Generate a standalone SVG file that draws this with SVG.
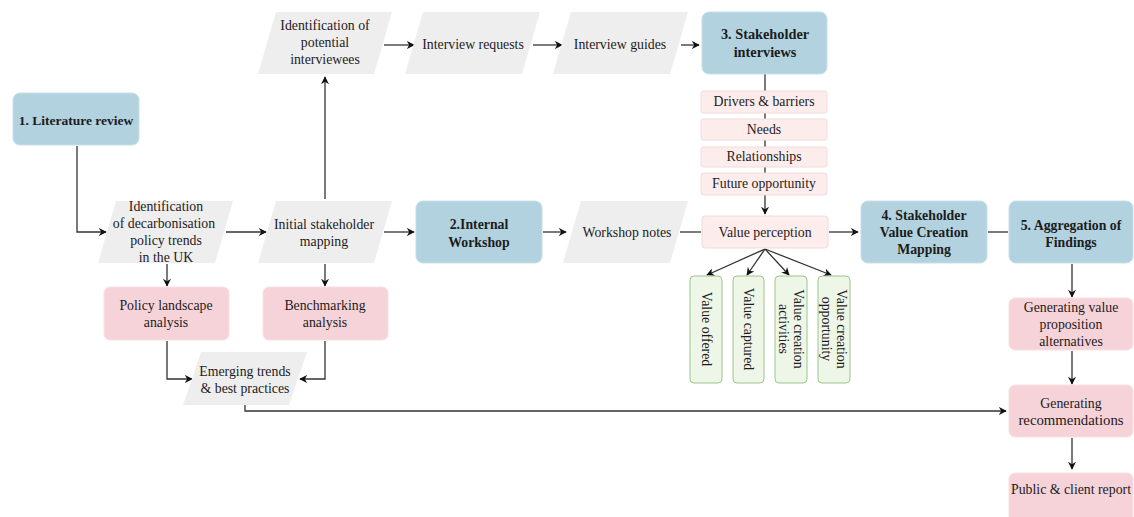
<svg xmlns="http://www.w3.org/2000/svg" width="1134" height="517" viewBox="0 0 1134 517">
<defs>
<marker id="ah" viewBox="0 0 10 10" refX="9" refY="5" markerWidth="8" markerHeight="8" orient="auto-start-reverse" markerUnits="userSpaceOnUse">
<path d="M0,0 L10,5 L0,10 L3,5 z" fill="#111"/>
</marker>
<style>
text{font-family:"Liberation Serif","Times New Roman",serif;font-size:13.8px;fill:#1c1c1c;text-anchor:middle;}
.b{font-weight:bold;font-size:13.8px;}
.blue{fill:#b1d2de;stroke:#c6dfe8;stroke-width:1;}
.pink{fill:#f6d3d8;stroke:#f8e0e3;stroke-width:1;}
.lpink{fill:#fcedec;stroke:#f2dcdc;stroke-width:1;}
.gray{fill:#efeeee;}
.green{fill:#eef6e8;stroke:#9cc68c;stroke-width:1;}
.c{fill:none;stroke:#333;stroke-width:1.3;}
.ca{fill:none;stroke:#333;stroke-width:1.3;marker-end:url(#ah);}
</style>
</defs>
<rect width="1134" height="517" fill="#fff"/>

<g id="connectors">
<path class="ca" d="M77,146 V232 H106"/>
<path class="ca" d="M226,232 H266"/>
<path class="ca" d="M384,232 H414"/>
<path class="ca" d="M325,199 V77"/>
<path class="ca" d="M384,45 H414"/>
<path class="ca" d="M533,45 H562"/>
<path class="ca" d="M681,45 H699"/>
<path class="c" d="M765,74 V91"/>
<path class="c" d="M765,113 V119"/>
<path class="c" d="M765,140 V147"/>
<path class="c" d="M765,167 V173"/>
<path class="ca" d="M765,195 V214"/>
<path class="ca" d="M543,232 H566"/>
<path class="c" d="M680,232 H701"/>
<path class="ca" d="M829,232 H858"/>
<path class="c" d="M988,232 H1008"/>
<path class="ca" d="M765,249 L707,275"/>
<path class="ca" d="M765,249 L747,275"/>
<path class="ca" d="M765,249 L789,275"/>
<path class="ca" d="M765,249 L831,275"/>
<path class="ca" d="M167,264 V286"/>
<path class="ca" d="M325,264 V286"/>
<path class="ca" d="M167,341 V379 H192"/>
<path class="ca" d="M325,341 V379 H300"/>
<path class="ca" d="M245,405 V411 H1006"/>
<path class="ca" d="M1072,264 V297"/>
<path class="ca" d="M1072,351 V384"/>
<path class="ca" d="M1072,438 V469"/>
</g>

<g id="n1"><rect class="blue" x="13" y="93" width="126" height="52" rx="7"/><text class="b" x="76" y="125" style="font-size:13.5px">1. Literature review</text></g>

<g id="n-idpot"><polygon class="gray" points="276,12 392,12 374,74 258,74"/><text x="325" y="30">Identification of</text><text x="325" y="47">potential</text><text x="325" y="64">interviewees</text></g>
<g id="n-ireq"><polygon class="gray" points="423,12 540,12 522,74 405,74"/><text x="473" y="49">Interview requests</text></g>
<g id="n-iguide"><polygon class="gray" points="571,12 688,12 670,74 553,74"/><text x="620" y="49">Interview guides</text></g>
<g id="n3"><rect class="blue" x="702" y="12" width="125" height="62" rx="7"/><text class="b" x="765" y="39" style="font-size:14.3px">3. Stakeholder</text><text class="b" x="765" y="57" style="font-size:14.3px">interviews</text></g>

<g id="n-drivers"><rect class="lpink" x="701" y="91" width="126" height="22" rx="2"/><text x="764" y="106">Drivers &amp; barriers</text></g>
<g id="n-needs"><rect class="lpink" x="701" y="119" width="126" height="21" rx="2"/><text x="764" y="134">Needs</text></g>
<g id="n-rel"><rect class="lpink" x="701" y="147" width="126" height="20" rx="2"/><text x="764" y="161">Relationships</text></g>
<g id="n-future"><rect class="lpink" x="701" y="173" width="126" height="22" rx="2"/><text x="764" y="188">Future opportunity</text></g>

<g id="n-iddecarb"><polygon class="gray" points="116,201 233,201 215,263 98,263"/><text x="166" y="211">Identification</text><text x="164" y="228">of decarbonisation</text><text x="166" y="245">policy trends</text><text x="166" y="262">in the UK</text></g>
<g id="n-initial"><polygon class="gray" points="276,201 392,201 374,263 258,263"/><text x="324" y="229">Initial stakeholder</text><text x="324" y="246">mapping</text></g>
<g id="n2"><rect class="blue" x="416" y="201" width="126" height="62" rx="7"/><text class="b" x="479" y="229">2.Internal</text><text class="b" x="479" y="247">Workshop</text></g>
<g id="n-wsnotes"><polygon class="gray" points="581,201 688,201 670,263 563,263"/><text x="627" y="237">Workshop notes</text></g>
<g id="n-valperc"><rect class="lpink" x="702" y="216" width="126" height="32" rx="3"/><text x="765" y="237">Value perception</text></g>
<g id="n4"><rect class="blue" x="861" y="201" width="126" height="62" rx="7"/><text class="b" x="924" y="220">4. Stakeholder</text><text class="b" x="924" y="237">Value Creation</text><text class="b" x="924" y="254">Mapping</text></g>
<g id="n5"><rect class="blue" x="1009" y="201" width="124" height="62" rx="7"/><text class="b" x="1071" y="230">5. Aggregation of</text><text class="b" x="1071" y="247">Findings</text></g>

<g id="n-voff"><rect class="green" x="690" y="276" width="32" height="107" rx="4"/><text transform="translate(706,329) rotate(90)" y="4.5">Value offered</text></g>
<g id="n-vcap"><rect class="green" x="733" y="276" width="31" height="107" rx="4"/><text transform="translate(748,329) rotate(90)" y="4.5">Value captured</text></g>
<g id="n-vact"><rect class="green" x="775" y="276" width="32" height="107" rx="4"/><text transform="translate(791,329) rotate(90)"><tspan x="0" y="-3">Value creation</tspan><tspan x="0" y="12">activities</tspan></text></g>
<g id="n-vopp"><rect class="green" x="818" y="276" width="32" height="107" rx="4"/><text transform="translate(834,329) rotate(90)"><tspan x="0" y="-3">Value creation</tspan><tspan x="0" y="12">opportunity</tspan></text></g>

<g id="n-policy"><rect class="pink" x="104" y="287" width="125" height="53" rx="6"/><text x="166" y="310">Policy landscape</text><text x="166" y="327">analysis</text></g>
<g id="n-bench"><rect class="pink" x="263" y="287" width="125" height="53" rx="6"/><text x="325" y="310">Benchmarking</text><text x="325" y="327">analysis</text></g>
<g id="n-emerging"><polygon class="gray" points="201,352 307,352 289,405 183,405"/><text x="245" y="376">Emerging trends</text><text x="245" y="393">&amp; best practices</text></g>

<g id="n-genvp"><rect class="pink" x="1009" y="298" width="124" height="52" rx="6"/><text x="1071" y="312">Generating value</text><text x="1071" y="329">proposition</text><text x="1071" y="346">alternatives</text></g>
<g id="n-genrec"><rect class="pink" x="1009" y="385" width="124" height="52" rx="6"/><text x="1071" y="408">Generating</text><text x="1071" y="425" style="font-size:14.8px">recommendations</text></g>
<g id="n-report"><rect class="pink" x="1009" y="473" width="124" height="50" rx="6"/><text x="1071" y="494">Public &amp; client report</text></g>
</svg>
